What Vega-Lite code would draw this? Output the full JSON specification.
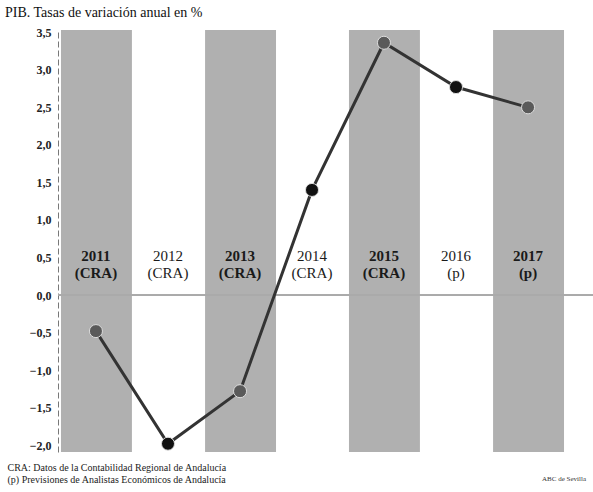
{
  "$schema": "https://vega.github.io/schema/vega-lite/v6.json",
  "width": 535,
  "height": 422,
  "autosize": "none",
  "padding": {"left": 58, "top": 30, "right": 0, "bottom": 40},
  "background": "white",
  "config": {
    "view": {"stroke": null},
    "font": "Liberation Serif",
    "locale": {"number": {"decimal": ",", "thousands": ".", "grouping": [3], "currency": ["", " €"]}},
    "axisY": {"labelOverlap": false, "labelBound": false, "labelFlush": false}
  },
  "title": {
    "text": "PIB. Tasas de variación anual en %",
    "anchor": "start",
    "frame": "group",
    "dx": -53,
    "offset": 6,
    "fontSize": 14,
    "fontWeight": "normal",
    "font": "Liberation Serif",
    "color": "#111"
  },
  "data": {
    "values": [
      {"date": "2011-01-01T00:00:00", "value": -0.48, "label": "2011|(CRA)"},
      {"date": "2012-01-01T00:00:00", "value": -1.98, "label": "2012|(CRA)"},
      {"date": "2013-01-01T00:00:00", "value": -1.28, "label": "2013|(CRA)"},
      {"date": "2014-01-01T00:00:00", "value": 1.4, "label": "2014|(CRA)"},
      {"date": "2015-01-01T00:00:00", "value": 3.36, "label": "2015|(CRA)"},
      {"date": "2016-01-01T00:00:00", "value": 2.77, "label": "2016|(p)"},
      {"date": "2017-01-01T00:00:00", "value": 2.5, "label": "2017|(p)"}
    ]
  },
  "encoding": {
    "x": {
      "field": "date",
      "timeUnit": "year",
      "type": "temporal",
      "scale": {"domain": [{"year": 2010, "month": 12, "date": 22}, {"year": 2018, "month": 5, "date": 28}]},
      "axis": {
        "labels": false,
        "ticks": false,
        "domain": false,
        "grid": false,
        "title": ["CRA: Datos de la Contabilidad Regional de Andalucía", "(p) Previsiones de Analistas Económicos de Andalucía"],
        "titleX": -51,
        "titleY": 10,
        "titleAlign": "left",
        "titleBaseline": "top",
        "titleFontSize": 10,
        "titleFontWeight": "normal",
        "titleFont": "Liberation Serif",
        "titleColor": "#222",
        "titleLineHeight": 12
      }
    },
    "y": {
      "field": "value",
      "type": "quantitative",
      "scale": {"domain": [-2.09, 3.53], "nice": false, "zero": false},
      "axis": {
        "values": [-2, -1.5, -1, -0.5, 0, 0.5, 1, 1.5, 2, 2.5, 3, 3.5],
        "format": ".1f",
        "labelOverlap": false,
        "ticks": false,
        "domain": true,
        "domainColor": "#555",
        "domainWidth": 0.8,
        "domainDash": [6, 3],
        "grid": false,
        "labelFont": "Liberation Serif",
        "labelFontSize": 12,
        "labelFontWeight": "bold",
        "labelColor": "#222",
        "labelPadding": 7,
        "title": null
      }
    }
  },
  "layer": [
    {
      "transform": [{"filter": "year(datum.date) % 2 == 1"}],
      "mark": {"type": "bar", "color": "#b0b0b0"},
      "encoding": {
        "y": {"datum": 3.53, "type": "quantitative"},
        "y2": {"datum": -2.09}
      }
    },
    {
      "mark": {"type": "rule", "color": "#aaaaaa", "strokeWidth": 1},
      "encoding": {"x": null, "y": {"datum": 0, "type": "quantitative"}}
    },
    {
      "transform": [{"filter": "year(datum.date) % 2 == 1"}],
      "mark": {"type": "text", "font": "Liberation Serif", "fontSize": 15, "fontWeight": "bold", "baseline": "top", "align": "center", "lineBreak": "|", "lineHeight": 17, "color": "#1a1a1a"},
      "encoding": {
        "x": {"field": "date", "timeUnit": "year", "type": "temporal", "bandPosition": 0.5},
        "y": {"datum": 0.62, "type": "quantitative"},
        "text": {"field": "label"}
      }
    },
    {
      "transform": [{"filter": "year(datum.date) % 2 == 0"}],
      "mark": {"type": "text", "font": "Liberation Serif", "fontSize": 15, "fontWeight": "normal", "baseline": "top", "align": "center", "lineBreak": "|", "lineHeight": 17, "color": "#1a1a1a"},
      "encoding": {
        "x": {"field": "date", "timeUnit": "year", "type": "temporal", "bandPosition": 0.5},
        "y": {"datum": 0.62, "type": "quantitative"},
        "text": {"field": "label"}
      }
    },
    {
      "mark": {"type": "line", "color": "#333333", "strokeWidth": 3},
      "encoding": {
        "x": {"field": "date", "timeUnit": "year", "type": "temporal", "bandPosition": 0.5}
      }
    },
    {
      "mark": {"type": "point", "filled": true, "size": 170, "stroke": "#dddddd", "strokeWidth": 1, "opacity": 1},
      "encoding": {
        "x": {"field": "date", "timeUnit": "year", "type": "temporal", "bandPosition": 0.5},
        "color": {"condition": {"test": "year(datum.date) % 2 == 1", "value": "#5a5a5a"}, "value": "#111111"}
      }
    },
    {
      "data": {"values": [{"credit": "ABC de Sevilla", "date": "2018-04-20T00:00:00", "pos": -2.45}]},
      "mark": {"type": "text", "fontSize": 7, "font": "Liberation Serif", "color": "#333", "align": "center", "clip": false},
      "encoding": {
        "x": {"field": "date", "type": "temporal"},
        "y": {"field": "pos", "type": "quantitative"},
        "text": {"field": "credit"}
      }
    }
  ]
}
